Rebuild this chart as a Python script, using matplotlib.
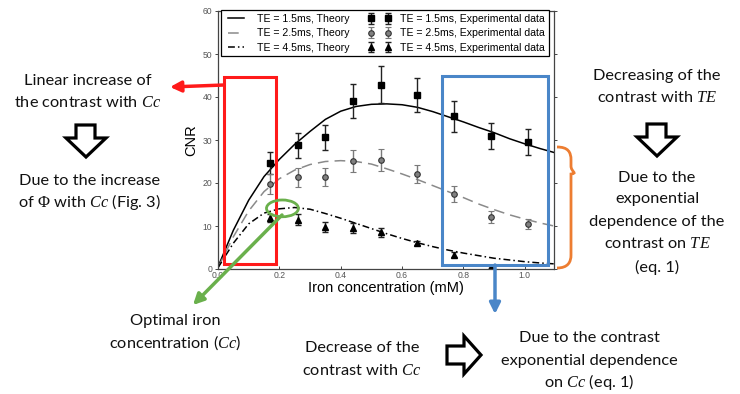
import matplotlib
matplotlib.use("Agg")
import matplotlib.pyplot as plt
import matplotlib.patches as mpatches
from matplotlib.path import Path
from matplotlib.transforms import Affine2D

plt.rcParams['mathtext.fontset'] = 'custom'
plt.rcParams['mathtext.rm'] = 'Liberation Serif'
plt.rcParams['mathtext.it'] = 'Liberation Serif:italic'

# ---------------- data ----------------
x_exp = [0.17, 0.26, 0.35, 0.44, 0.53, 0.65, 0.77, 0.89, 1.01]
cnr_15 = [24.7, 28.8, 30.6, 39.1, 42.8, 40.4, 35.5, 30.9, 29.5]
err_15 = [2.5, 2.9, 3.0, 4.0, 4.3, 4.0, 3.6, 3.0, 3.0]
cnr_25 = [19.7, 21.3, 21.3, 25.1, 25.3, 22.0, 17.4, 12.2, 10.5]
err_25 = [2.3, 2.3, 2.1, 2.6, 2.5, 2.1, 1.8, 1.4, 1.2]
x_exp45 = [0.17, 0.26, 0.35, 0.44, 0.53, 0.65, 0.77, 0.89]
cnr_45 = [11.9, 11.5, 9.8, 9.6, 8.5, 6.1, 3.3, 0.4]
err_45 = [1.0, 1.2, 1.2, 1.2, 1.0, 0.5, 0.6, 0.4]

x_th = [0, 0.05, 0.1, 0.15, 0.2, 0.25, 0.3, 0.35, 0.4, 0.45, 0.5, 0.55,
        0.6, 0.65, 0.7, 0.75, 0.8, 0.85, 0.9, 0.95, 1.0, 1.05, 1.095]
th_15 = [0.5, 9, 16, 21.5, 25.5, 29, 32, 34.8, 36.7, 37.8, 38.3, 38.4,
         38.2, 37.6, 36.6, 35.4, 34.2, 32.9, 31.7, 30.3, 29.1, 28, 27.1]
th_25 = [0.3, 7.5, 13.5, 18, 21, 23, 24.3, 25, 25.2, 25, 24.4, 23.3,
         22.1, 20.8, 19.4, 18, 16.6, 15.1, 13.8, 12.6, 11.6, 10.7, 10.0]
th_45 = [0.3, 6, 10.5, 13, 14, 14.3, 13.9, 12.9, 11.8, 10.6, 9.4, 8.2,
         7.1, 6.1, 5.2, 4.4, 3.7, 3.1, 2.5, 2.1, 1.7, 1.4, 1.2]

labels_th = ["TE = 1.5ms, Theory", "TE = 2.5ms, Theory", "TE = 4.5ms, Theory"]
labels_exp = ["TE = 1.5ms, Experimental data", "TE = 2.5ms, Experimental data",
              "TE = 4.5ms, Experimental data"]
xticks = [0.0, 0.2, 0.4, 0.6, 0.8, 1.0]
yticks = [0, 10, 20, 30, 40, 50, 60]

W, H = 740, 394
fig = plt.figure(figsize=(W / 100, H / 100), dpi=100)
ax = fig.add_axes([218 / W, 1 - 269 / H, 336 / W, 258 / H])

sans = 'Liberation Sans'
l1, = ax.plot(x_th, th_15, color='black', lw=1.1)
l2, = ax.plot(x_th, th_25, color='#8a8a8a', lw=1.1, dashes=(7, 4))
l3, = ax.plot(x_th, th_45, color='black', lw=1.1, dashes=(4.5, 2, 1, 2))

e1 = ax.errorbar(x_exp, cnr_15, yerr=err_15, fmt='s', color='black', ms=4,
                 ecolor='#222222', elinewidth=1, capsize=2.2, capthick=1)
e2 = ax.errorbar(x_exp, cnr_25, yerr=err_25, fmt='o', mfc='#808080', mec='#333333',
                 ms=4, mew=0.8, ecolor='#7a7a7a', elinewidth=1, capsize=2.2, capthick=1)
e3 = ax.errorbar(x_exp45, cnr_45, yerr=err_45, fmt='^', color='black', ms=3.8,
                 ecolor='#222222', elinewidth=1, capsize=2.2, capthick=1)

ax.set_xlim(0, 1.095)
ax.set_ylim(0, 60)
ax.set_xticks(xticks)
ax.set_xticklabels([f"{t:.1f}" for t in xticks])
ax.set_yticks(yticks)
ax.tick_params(axis='both', labelsize=6.2, labelcolor='#555555', color='#444444',
               length=2.5, width=0.7, pad=1.5)
ax.tick_params(axis='x', direction='in')
ax.tick_params(axis='y', direction='out', right=True)
for t in ax.get_yticklabels() + ax.get_xticklabels():
    t.set_family(sans)
for s in ax.spines.values():
    s.set_color('#444444')
    s.set_linewidth(0.9)
ax.set_xlabel("Iron concentration (mM)", fontsize=10.5, family=sans, labelpad=1)
ax.set_ylabel("CNR", fontsize=10.5, family=sans, labelpad=3)

leg = ax.legend([l1, l2, l3, e1, e2, e3], labels_th + labels_exp, ncol=2,
                loc='upper left', bbox_to_anchor=(0.008, 1.003), borderaxespad=0,
                prop={'family': sans, 'size': 7.6}, numpoints=2,
                fancybox=False, edgecolor='black', framealpha=1,
                handlelength=2.2, columnspacing=1.7, labelspacing=0.42,
                borderpad=0.35, handletextpad=0.9)
leg.get_frame().set_linewidth(0.9)

# ---------------- annotations ----------------
pix = Affine2D().scale(1 / W, -1 / H).translate(0, 1) + fig.transFigure

red = '#ff1a1a'
blue = '#4a86c8'
green = '#6ab04c'
orange = '#ed7d31'

ax.add_patch(mpatches.Rectangle((0.02, 1.2), 0.17, 43.5, fill=False, ec=red,
                                lw=2.2, clip_on=False, zorder=5))
ax.add_patch(mpatches.Rectangle((0.731, 0.9), 0.346, 44.0, fill=False, ec=blue,
                                lw=2.2, clip_on=False, zorder=5))
ax.add_patch(mpatches.Ellipse((0.21, 14.1), 0.104, 3.9, fill=False, ec=green,
                              lw=2.0, clip_on=False, zorder=6))


def arrow(p0, p1, color):
    a = mpatches.FancyArrowPatch(p0, p1, transform=pix, arrowstyle='-|>',
                                 mutation_scale=16, color=color, lw=2.5,
                                 shrinkA=0, shrinkB=0, zorder=7)
    fig.add_artist(a)


arrow((224, 85), (170, 87), red)
arrow((282, 215), (193, 305), green)
arrow((495, 265), (495, 314), blue)


def hollow(pts):
    fig.add_artist(mpatches.Polygon(pts, closed=True, transform=pix, fc='white',
                                    ec='black', lw=2.3, joinstyle='miter'))


hollow([(76, 125), (95, 125), (95, 138), (106, 138), (86, 157), (66, 138), (76, 138)])
hollow([(647, 124), (666, 124), (666, 137), (677, 137), (657, 156), (637, 137), (647, 137)])
hollow([(447, 346), (464, 346), (464, 336), (481, 355), (464, 374), (464, 364), (447, 364)])

# orange brace
verts = [(557, 147), (568, 147), (571, 152), (571, 160),
         (571, 166), (571, 172), (578, 173),
         (571, 174), (571, 180), (571, 186),
         (571, 255), (571, 262), (568, 268), (557, 268)]
codes = [Path.MOVETO, Path.CURVE4, Path.CURVE4, Path.CURVE4,
         Path.LINETO, Path.CURVE4, Path.CURVE4,
         Path.CURVE4, Path.CURVE4, Path.CURVE4,
         Path.LINETO, Path.CURVE4, Path.CURVE4, Path.CURVE4]
fig.add_artist(mpatches.PathPatch(Path(verts, codes), transform=pix, fill=False,
                                  ec=orange, lw=2.0))

tfont = dict(family='Lato', fontsize=11.8, ha='center', va='baseline',
             color='#111111')


def block(x, ys, lines):
    for y, s in zip(ys, lines):
        fig.text(x / W, 1 - (y + 5) / H, s, **tfont)


block(88, [80, 102], ["Linear increase of", "the contrast with $Cc$"])
block(90, [180, 202], ["Due to the increase", "of $\\Phi$ with $Cc$ (Fig. 3)"])
block(175, [320, 343], ["Optimal iron", "concentration ($Cc$)"])
block(657, [75, 97], ["Decreasing of the", "contrast with $TE$"])
block(657, [177, 198, 221, 243, 267],
      ["Due to the", "exponential", "dependence of the", "contrast on $TE$", "(eq. 1)"])
block(362, [347, 370], ["Decrease of the", "contrast with $Cc$"])
block(589, [337, 360, 382], ["Due to the contrast", "exponential dependence",
                             "on $Cc$ (eq. 1)"])

fig.savefig("out.png", dpi=100)
